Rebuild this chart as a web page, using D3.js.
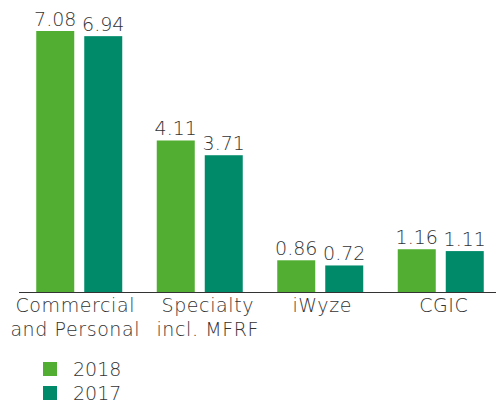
<!DOCTYPE html>
<html>
<head>
<meta charset="utf-8">
<script src="https://cdn.jsdelivr.net/npm/d3@7"></script>
<style>
    body { margin: 0; background: #fff; }
    text { font-family: "DejaVu Sans", sans-serif; font-weight: 200; fill: #333; }
</style>
</head>
<body>
<div id="chart"></div>
<script>

const categories = ["Commercial and Personal", "Specialty incl. MFRF", "iWyze", "CGIC"]
const categoryLines = [["Commercial", "and Personal"], ["Specialty", "incl. MFRF"], ["iWyze"], ["CGIC"]]
const years = ["2018", "2017"]
const values2018 = [7.08, 4.11, 0.86, 1.16]
const values2017 = [6.94, 3.71, 0.72, 1.11]
const colours = ["#52ae32", "#008a6a"]

function groupedBars({ element, width, height }) {

    const svg = d3.select(`#${element}`)
        .html(null)
        .append("svg")
        .attr("width", width)
        .attr("height", height)

    const baseY = 292
    // labels in the original sit a little off the group centres
    const labelNudge = [-4, 8, 2, 3]

    let x0 = d3.scaleBand()
        .domain(categories)
        .range([19, 501])

    let x1 = d3.scaleBand()
        .domain(years)
        .range([(x0.bandwidth() - 86) / 2, (x0.bandwidth() + 86) / 2])
        .paddingInner(10 / 48)

    let y = d3.scaleLinear()
        .domain([0, 7.08])
        .range([baseY, 31])

    const rows = categories.map((c, i) => ({
        cat: c,
        bars: [
            { year: years[0], v: values2018[i] },
            { year: years[1], v: values2017[i] }
        ]
    }))

    let group = svg.append("g")
        .selectAll("g")
        .data(rows)
        .join("g")
        .attr("transform", d => "translate(" + x0(d.cat) + ",0)")

    group.selectAll("rect")
        .data(d => d.bars)
        .join("rect")
        .attr("x", d => x1(d.year))
        .attr("y", d => y(d.v))
        .attr("width", x1.bandwidth())
        .attr("height", d => baseY - y(d.v))
        .attr("fill", (d, i) => colours[i])

    // value labels
    group.selectAll("text.val")
        .data(d => d.bars)
        .join("text")
        .attr("class", "val")
        .attr("x", d => x1(d.year) + x1.bandwidth() / 2)
        .attr("y", d => y(d.v) - 5)
        .attr("text-anchor", "middle")
        .style("font-size", "19px")
        .text(d => d.v.toFixed(2))

    // baseline
    svg.append("line")
        .attr("x1", 19)
        .attr("x2", width)
        .attr("y1", baseY + 0.5)
        .attr("y2", baseY + 0.5)
        .attr("stroke", "#333")
        .attr("stroke-width", 1.2)

    // category labels
    let lab = svg.append("g")
        .selectAll("text")
        .data(categories)
        .join("text")
        .attr("text-anchor", "middle")
        .attr("transform", (d, i) => "translate(" + (x0(d) + x0.bandwidth() / 2 + labelNudge[i]) + "," + (baseY + 20) + ")")
        .style("font-size", "19px")
        .style("letter-spacing", "0.6px")

    lab.selectAll("tspan")
        .data((d, i) => categoryLines[i])
        .join("tspan")
        .attr("x", 0)
        .attr("dy", (d, i) => i === 0 ? 0 : 24)
        .text(d => d)

    // legend
    let legend = svg.append("g")
        .selectAll("g")
        .data(years)
        .join("g")
        .attr("transform", (d, i) => "translate(43," + (362 + i * 24) + ")")

    legend.append("rect")
        .attr("width", 14)
        .attr("height", 14)
        .attr("fill", (d, i) => colours[i])

    legend.append("text")
        .attr("x", 30)
        .attr("y", 14)
        .style("font-size", "19px")
        .text(d => d)

    return svg.node()
}

groupedBars({ element: "chart", width: 496, height: 403 })
</script>
</body>
</html>
